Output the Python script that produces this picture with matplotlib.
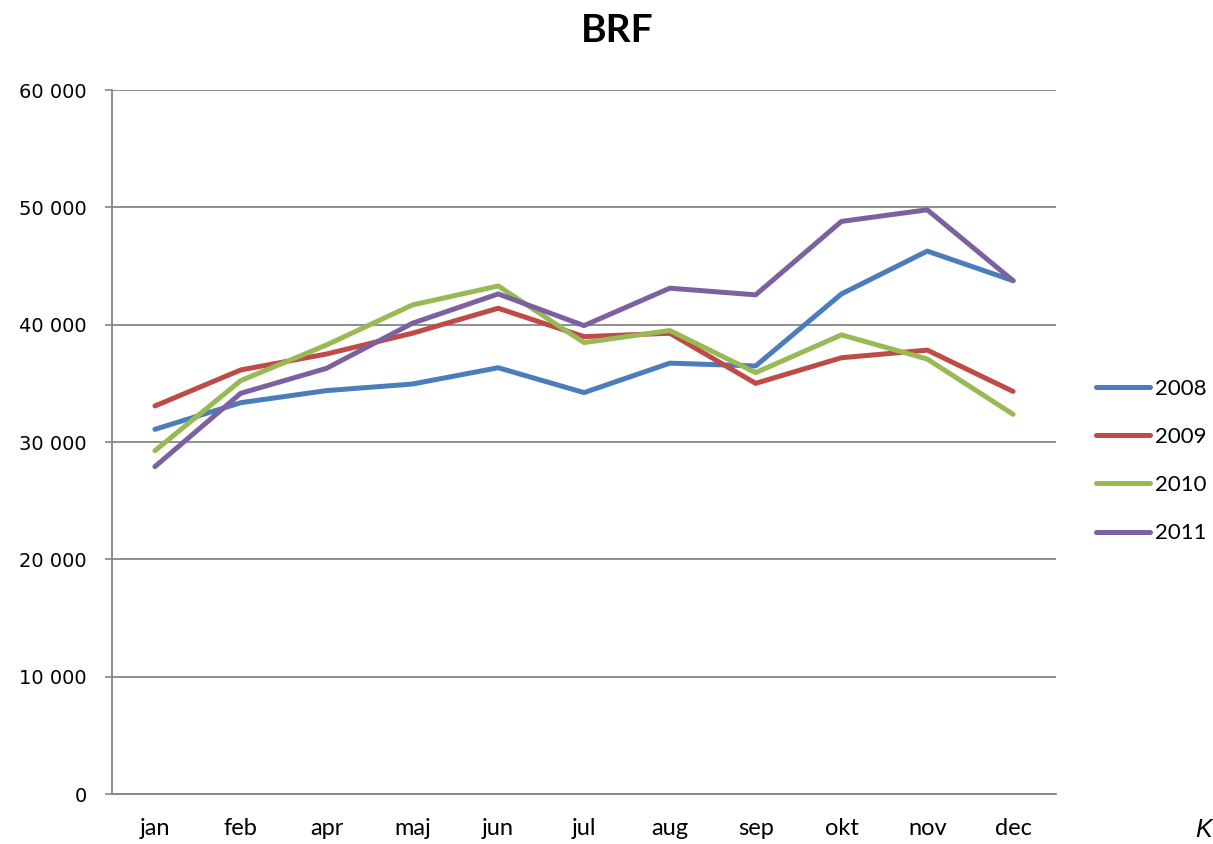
import matplotlib
matplotlib.use("Agg")
import matplotlib.pyplot as plt

months = ["jan", "feb", "apr", "maj", "jun", "jul", "aug", "sep", "okt", "nov", "dec"]
series_names = ["2008", "2009", "2010", "2011"]
v2008 = [31080, 33350, 34380, 34940, 36330, 34210, 36720, 36480, 42620, 46270, 43750]
v2009 = [33070, 36140, 37500, 39270, 41400, 38980, 39270, 35000, 37180, 37830, 34310]
v2010 = [29260, 35230, 38270, 41680, 43300, 38470, 39500, 35910, 39130, 37070, 32360]
v2011 = [27900, 34150, 36280, 40120, 42620, 39920, 43110, 42540, 48800, 49790, 43750]
colors = ["#4A7EBB", "#BE4B48", "#98B954", "#7D60A0"]
yticks = [0, 10000, 20000, 30000, 40000, 50000, 60000]
ytick_labels = ["0", "10 000", "20 000", "30 000", "40 000", "50 000", "60 000"]

W, H = 1213, 844
fig = plt.figure(figsize=(W / 100, H / 100), dpi=100)
ax = fig.add_axes([112 / W, 1 - 794 / H, (1056 - 112) / W, (794 - 90) / H])

x = list(range(len(months)))
for vals, name, c in zip([v2008, v2009, v2010, v2011], series_names, colors):
    ax.plot(x, vals, color=c, lw=3.6, label=name, solid_capstyle="round", solid_joinstyle="round")

ax.set_xlim(-0.5, len(months) - 0.5)
ax.set_ylim(0, 60000)
ax.set_yticks(yticks)
ax.set_yticklabels(ytick_labels, fontfamily="DejaVu Sans", fontsize=14)
ax.set_xticks(x)
ax.set_xticklabels(months, fontfamily="Lato", fontsize=17)
ax.tick_params(axis="x", length=0, pad=17)
ax.tick_params(axis="y", length=5, width=1.2, color="#868686", pad=13)
ax.grid(axis="y", color="#868686", lw=1.3)
ax.set_axisbelow(True)
for s in ["top", "right"]:
    ax.spines[s].set_visible(False)
for s in ["left", "bottom"]:
    ax.spines[s].set_color("#868686")
    ax.spines[s].set_linewidth(1.3)

fig.text(617 / W, 1 - 30 / H, "BRF", ha="center", va="center", fontfamily="Lato",
         fontweight="bold", fontsize=28)

leg = fig.legend(loc="center left", bbox_to_anchor=(1096 / W, 1 - 461 / H), frameon=False,
                 borderpad=0, borderaxespad=0, handlelength=2.45, handletextpad=0.2,
                 labelspacing=1.27, prop={"family": "Lato", "size": 16})

fig.text(1195 / W, 1 - 830 / H, "K", ha="left", va="center", fontfamily="Liberation Sans",
         fontstyle="italic", fontsize=18)

fig.savefig("out.png", dpi=100)
